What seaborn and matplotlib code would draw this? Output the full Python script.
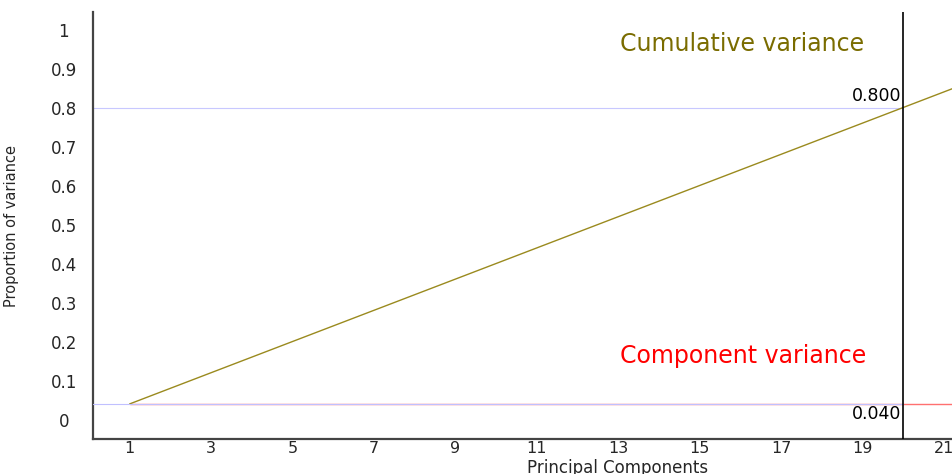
import os
import matplotlib
matplotlib.use("Agg")
import matplotlib.pyplot as plt
from matplotlib import font_manager
import seaborn as sns
import pandas as pd

# data
components = [1, 2, 3, 4, 5, 6, 7, 8, 9, 10, 11, 12, 13, 14, 15, 16, 17, 18, 19, 20, 21, 22]
cumulative = [0.04, 0.08, 0.12, 0.16, 0.20, 0.24, 0.28, 0.32, 0.36, 0.40, 0.44,
              0.48, 0.52, 0.56, 0.60, 0.64, 0.68, 0.72, 0.76, 0.80, 0.84, 0.88]
component_var = [0.04, 0.04, 0.04, 0.04, 0.04, 0.04, 0.04, 0.04, 0.04, 0.04, 0.04,
                 0.04, 0.04, 0.04, 0.04, 0.04, 0.04, 0.04, 0.04, 0.04, 0.04, 0.04]
cutoff_pc = 20
cutoff_cum = 0.800
cutoff_comp = 0.040
x_ticks = [1, 3, 5, 7, 9, 11, 13, 15, 17, 19, 21]
y_ticks = [0, 0.1, 0.2, 0.3, 0.4, 0.5, 0.6, 0.7, 0.8, 0.9, 1]
y_ticklabels = ["0", "0.1", "0.2", "0.3", "0.4", "0.5", "0.6", "0.7", "0.8", "0.9", "1"]

df = pd.DataFrame({"pc": components, "cum": cumulative, "comp": component_var})

sns.set_style("white")

# wide Verdana-like face for ticks and annotations
dv_path = os.path.join(matplotlib.get_data_path(), "fonts", "ttf", "DejaVuSans.ttf")
font_manager.fontManager.addfont(dv_path)
plt.rcParams['font.family'] = 'sans-serif'
plt.rcParams['font.sans-serif'] = ['DejaVu Sans']


def fp(size):
    return font_manager.FontProperties(fname=dv_path, size=size)


fig = plt.figure(figsize=(9.52, 4.74), dpi=100)
ax = fig.add_axes([0.0977, 0.0738, 0.9023, 0.9009])

olive = "#9a8a1e"
# reference lines up to the cutoff
ax.plot([0.1, cutoff_pc], [cutoff_cum, cutoff_cum], color="#c8c8ff", lw=0.8, zorder=1)
ax.plot([0.1, cutoff_pc], [cutoff_comp, cutoff_comp], color="#c0c0ff", lw=0.8, zorder=3)

sns.lineplot(data=df, x="pc", y="comp", color="#ff7070", lw=1.0, ax=ax, zorder=2)
sns.lineplot(data=df, x="pc", y="cum", color=olive, lw=1.0, ax=ax, zorder=2)
ax.axvline(cutoff_pc, color="black", lw=1.2, zorder=4)

ax.text(cutoff_pc - 0.05, cutoff_cum + 0.006, f"{cutoff_cum:.3f}", ha="right", va="bottom",
        color="black", fontproperties=fp(12.5))
ax.text(cutoff_pc - 0.05, cutoff_comp - 0.004, f"{cutoff_comp:.3f}", ha="right", va="top",
        color="black", fontproperties=fp(12.5))
ax.text(16.04, 0.962, "Cumulative variance", ha="center", va="center",
        color="#7a6c00", fontproperties=fp(17))
ax.text(16.08, 0.164, "Component variance", ha="center", va="center",
        color="red", fontproperties=fp(17))

ax.set_xlim(0.1, 21.2)
ax.set_ylim(-0.05, 1.045)
ax.set_xticks(x_ticks)
ax.set_xticklabels([str(v) for v in x_ticks])
ax.set_yticks(y_ticks)
ax.set_yticklabels(y_ticklabels)
ax.tick_params(axis="x", length=0, pad=1.5)
ax.tick_params(axis="y", length=0, pad=21)
for lab in ax.get_xticklabels():
    lab.set_fontproperties(fp(11.5))
for lab in ax.get_yticklabels():
    lab.set_fontproperties(fp(12))
    lab.set_horizontalalignment("center")

ax.set_xlabel("Principal Components", fontproperties=fp(12))
ax.xaxis.set_label_coords(0.611, -0.067)
ax.xaxis.label.set_verticalalignment("center")
ax.set_ylabel("Proportion of variance", fontsize=10.5)
ax.yaxis.set_label_coords(-0.086, 0.5)

for side in ["top", "right"]:
    ax.spines[side].set_visible(False)
for side in ["left", "bottom"]:
    ax.spines[side].set_color("#444444")
    ax.spines[side].set_linewidth(1.6)

fig.savefig("out.png", dpi=100)
